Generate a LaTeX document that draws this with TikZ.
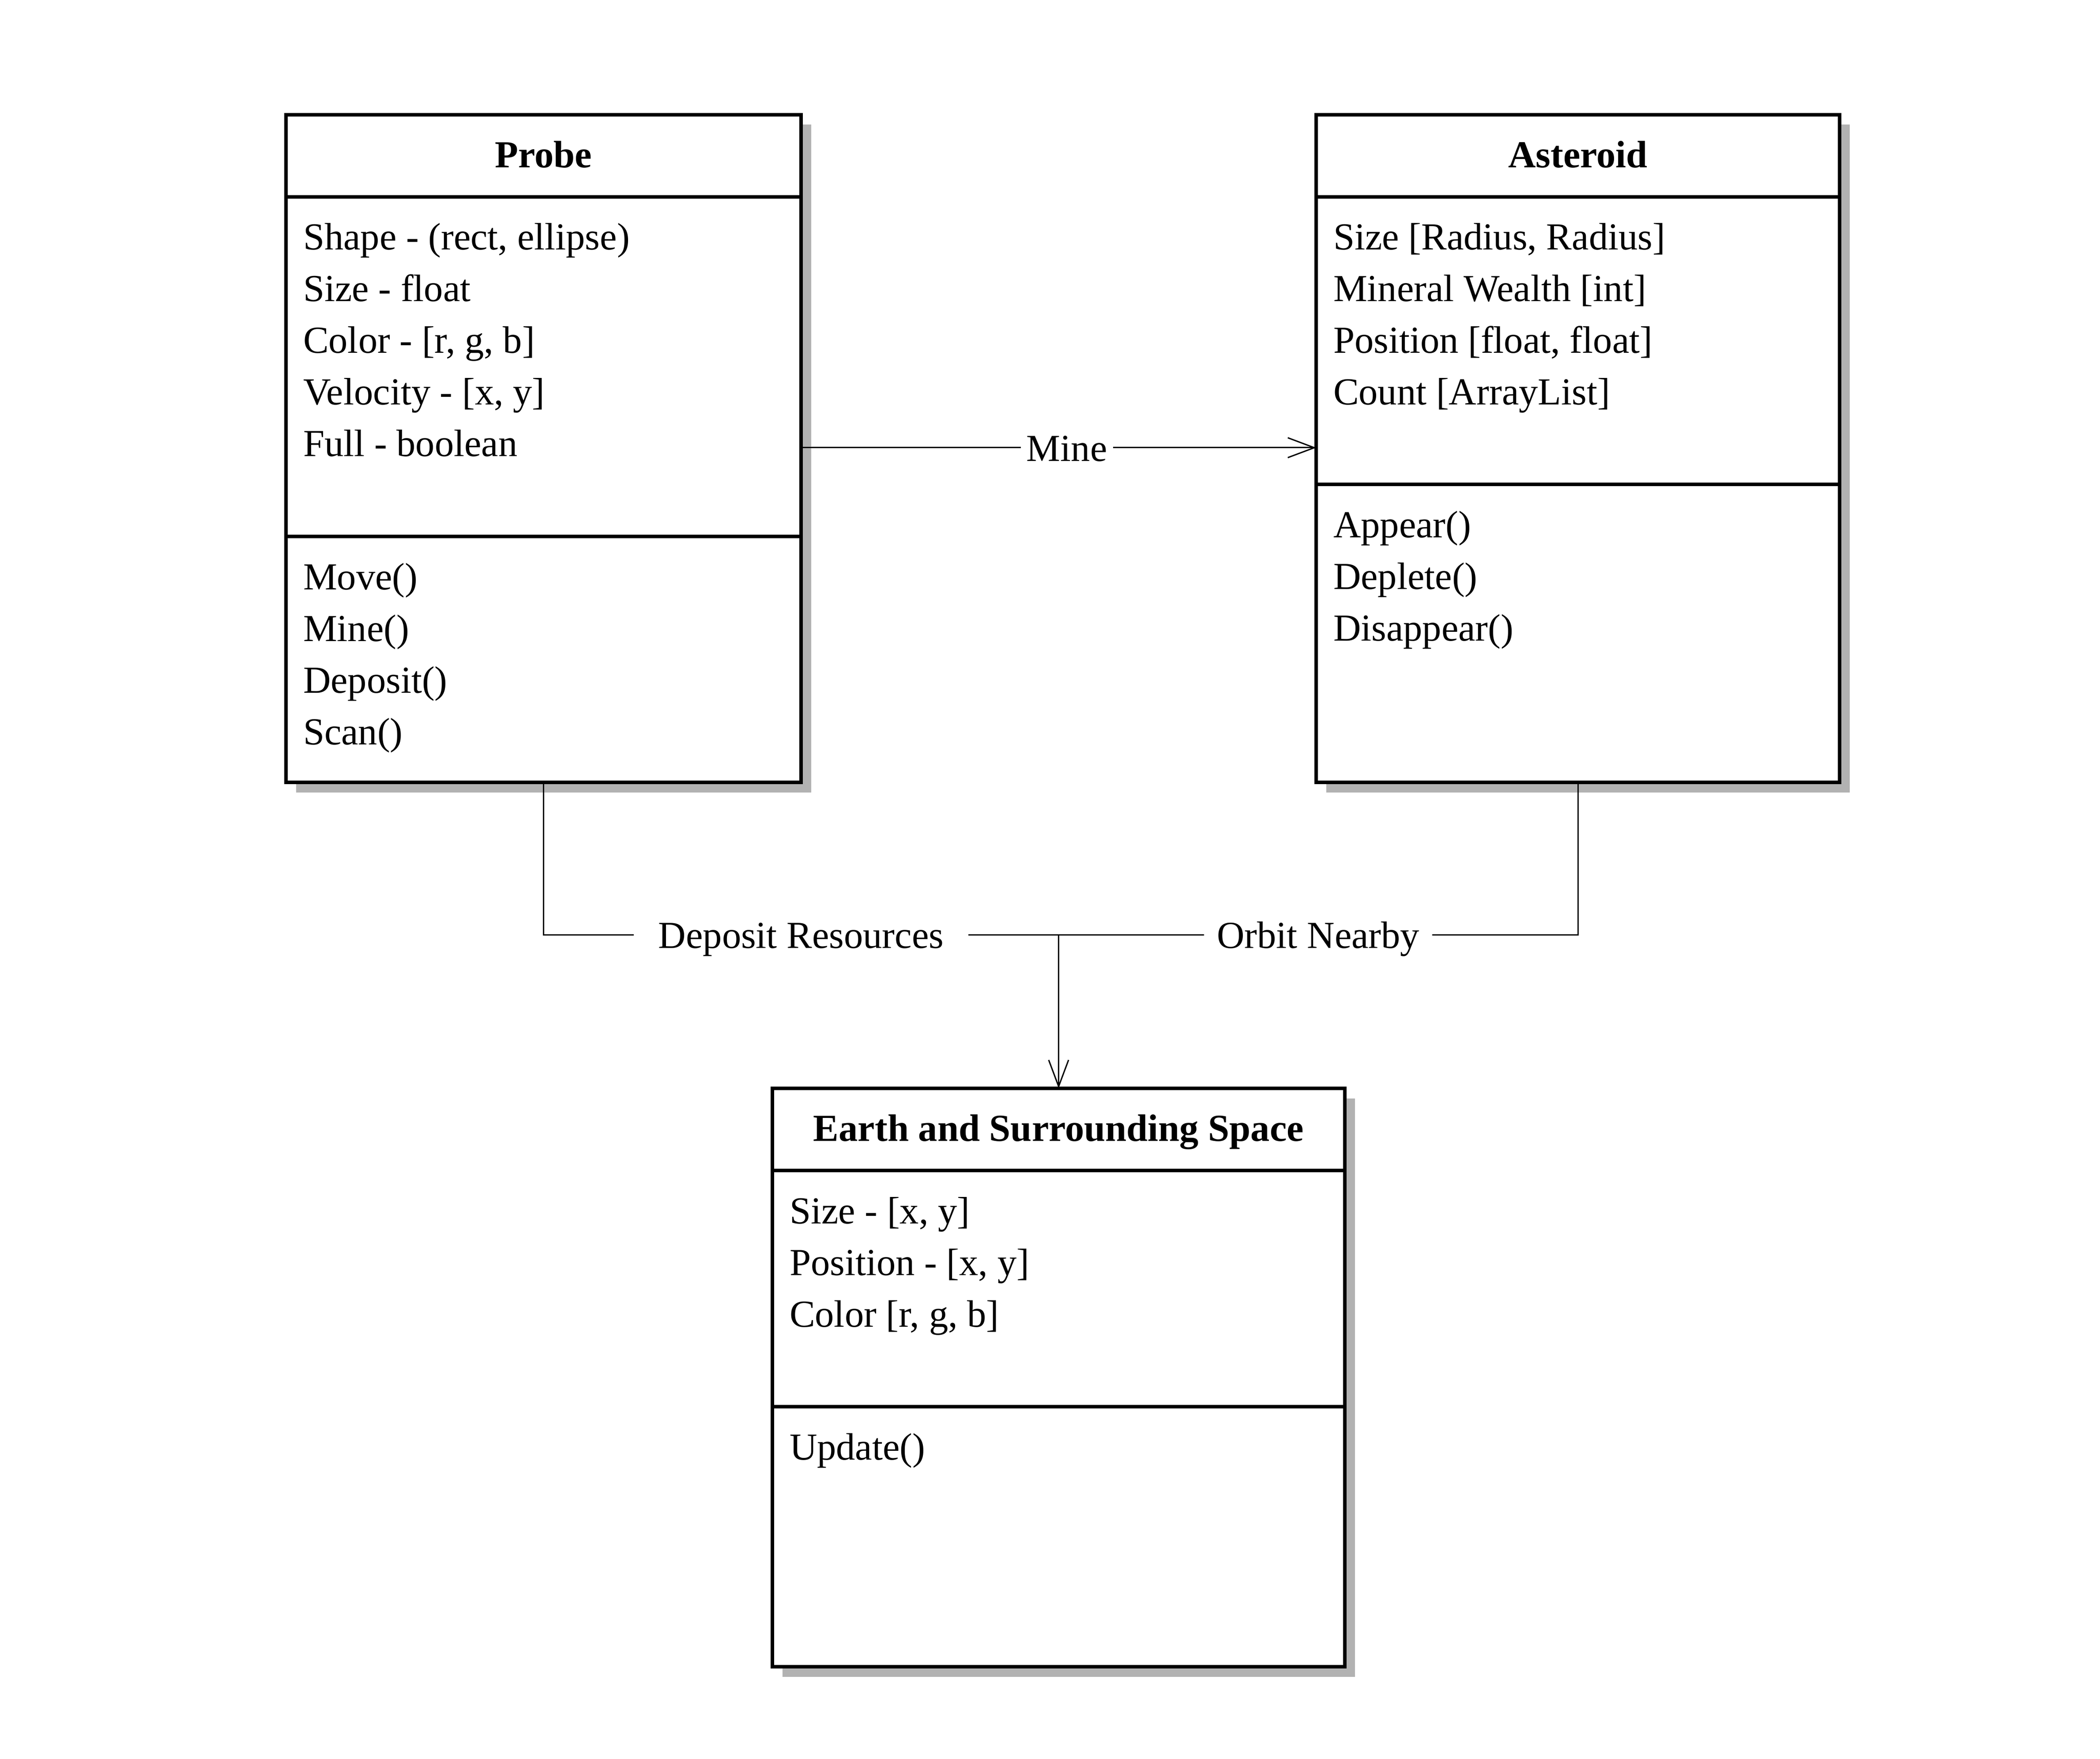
\documentclass[tikz,border=0pt]{standalone}
\usepackage{fontspec}
\setmainfont{Liberation Serif}
\usetikzlibrary{positioning,shadows,arrows.meta}

\newcommand{\memberlist}[1]{\begin{tabular}[t]{@{}l@{}}#1\end{tabular}}

\tikzset{
	compart/.style={draw, fill=white, line width=1.6pt, outer sep=0pt, inner sep=0pt,
		drop shadow={shadow xshift=4.5pt, shadow yshift=-4.5pt, fill=black!30, opacity=1}},
	classtitle/.style={compart, font=\bfseries\fontsize{17.3}{23.4}\selectfont, text height=10.5pt, text depth=0pt},
	members/.style={anchor=base west, inner sep=0pt, font=\fontsize{17.3}{23.4}\selectfont},
	lbl/.style={fill=white, inner sep=2.6pt, text height=12pt, text depth=0pt, font=\fontsize{17.3}{23.4}\selectfont},
	link/.style={line width=0.6pt},
}

\begin{document}
\begin{tikzpicture}[x=1pt, y=1pt, >={Straight Barb[length=12pt,width=9pt]}]
	\useasboundingbox (0,0) rectangle (951.6,-796.6);

	% Probe
	\node[classtitle, minimum width=233.4pt, minimum height=37.2pt, anchor=north west] (probe) at (129.6,-52) {Probe};
	\node[compart, minimum width=233.4pt, minimum height=153.8pt, below=0pt of probe] (probe-attr) {};
	\node[compart, minimum width=233.4pt, minimum height=111.4pt, below=0pt of probe-attr] (probe-ops) {};
	\node[members] (probe-attr-txt) at ([xshift=7.6pt, yshift=-24pt]probe-attr.north west)
		{\memberlist{Shape - (rect, ellipse)\\Size - float\\Color - [r, g, b]\\Velocity - [x, y]\\Full - boolean}};
	\node[members] (probe-ops-txt) at ([xshift=7.6pt, yshift=-24pt]probe-ops.north west)
		{\memberlist{Move()\\Mine()\\Deposit()\\Scan()}};

	% Asteroid
	\node[classtitle, minimum width=237.2pt, minimum height=37.2pt, right=233.4pt of probe] (asteroid) {Asteroid};
	\node[compart, minimum width=237.2pt, minimum height=130.2pt, below=0pt of asteroid] (asteroid-attr) {};
	\node[compart, minimum width=237.2pt, minimum height=135pt, below=0pt of asteroid-attr] (asteroid-ops) {};
	\node[members] (asteroid-attr-txt) at ([xshift=7.6pt, yshift=-24pt]asteroid-attr.north west)
		{\memberlist{Size [Radius, Radius]\\Mineral Wealth [int]\\Position [float, float]\\Count [ArrayList]}};
	\node[members] (asteroid-ops-txt) at ([xshift=7.6pt, yshift=-24pt]asteroid-ops.north west)
		{\memberlist{Appear()\\Deplete()\\Disappear()}};

	% Earth and Surrounding Space
	\node[classtitle, minimum width=259.4pt, minimum height=37.2pt, anchor=north] (earth) at (479.7,-493) {Earth and Surrounding Space};
	\node[compart, minimum width=259.4pt, minimum height=107pt, below=0pt of earth] (earth-attr) {};
	\node[compart, minimum width=259.4pt, minimum height=117.8pt, below=0pt of earth-attr] (earth-ops) {};
	\node[members] (earth-attr-txt) at ([xshift=7.6pt, yshift=-24pt]earth-attr.north west)
		{\memberlist{Size - [x, y]\\Position - [x, y]\\Color [r, g, b]}};
	\node[members] (earth-ops-txt) at ([xshift=7.6pt, yshift=-24pt]earth-ops.north west)
		{\memberlist{Update()}};

	% links
	\coordinate (hub) at ([yshift=69.6pt]earth.north);
	\draw[link, ->] ([yshift=-36.7pt]probe-attr.east) -- node[lbl, pos=0.516] (mine-lbl) {Mine} ([yshift=-36.7pt]probe-attr.east -| asteroid-attr.west);
	\draw[link] (probe-ops.south) |- node[lbl, pos=0.75, inner xsep=11.2pt] (deposit-lbl) {Deposit Resources} (hub);
	\draw[link] (asteroid-ops.south) |- node[lbl, pos=0.75, inner xsep=5.8pt] (orbit-lbl) {Orbit Nearby} (hub);
	\draw[link, ->] (hub) -- (earth.north);
\end{tikzpicture}
\end{document}
